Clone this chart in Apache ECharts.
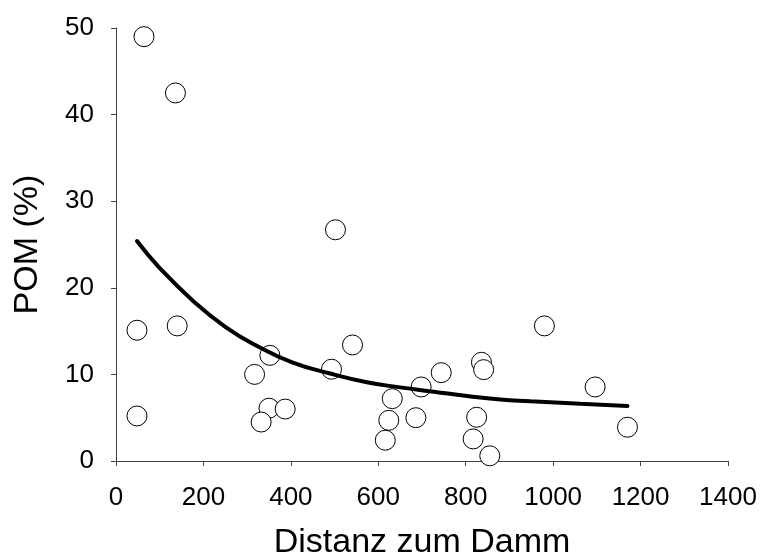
<!DOCTYPE html>
<html>
<head>
<meta charset="utf-8">
<script src="https://cdn.jsdelivr.net/npm/echarts@6/dist/echarts.min.js"></script>
<style>html,body{margin:0;padding:0;background:#fff}#c{width:760px;height:560px}</style>
</head>
<body>
<div id="c"></div>
<script>
// Observed points: distance (m) and POM (%)
var distanz = [64, 136, 502, 48, 140, 48, 352, 317, 541, 493, 350, 387, 332, 632, 624, 616, 686, 698, 744, 980, 836, 841, 1096, 825, 817, 855, 1170];
var pom = [49.0, 42.5, 26.7, 15.1, 15.6, 5.2, 12.2, 10.0, 13.4, 10.6, 6.1, 6.0, 4.5, 7.2, 4.7, 2.4, 5.0, 8.55, 10.2, 15.6, 11.4, 10.55, 8.55, 5.05, 2.55, 0.6, 3.9];
// Fitted curve
var curveX = [48, 98, 174, 250, 326, 403, 490, 574, 650, 727, 803, 879, 948, 1062, 1170];
var curveY = [25.4, 22.4, 18.6, 15.5, 13.2, 11.4, 10.1, 9.1, 8.5, 8.0, 7.5, 7.1, 6.9, 6.6, 6.35];
var xTicks = [0, 200, 400, 600, 800, 1000, 1200, 1400];
var yTicks = [0, 10, 20, 30, 40, 50];

var pts = distanz.map(function (d, i) { return [d, pom[i]]; });
var curve = curveX.map(function (d, i) { return [d, curveY[i]]; });
var font = 'Liberation Sans, Arial, sans-serif';
var axisCol = '#404040';

var chart = echarts.init(document.getElementById('c'), null, { renderer: 'canvas' });
chart.setOption({
  animation: false,
  backgroundColor: '#ffffff',
  grid: { left: 116, right: 32, top: 28, bottom: 99, containLabel: false, outerBoundsMode: 'none' },
  xAxis: {
    type: 'value', min: xTicks[0], max: xTicks[xTicks.length - 1], interval: 200,
    name: 'Distanz zum Damm', nameLocation: 'middle', nameGap: 65,
    nameTextStyle: { fontFamily: font, fontSize: 34, color: '#000' },
    axisLine: { show: true, onZero: false, lineStyle: { color: axisCol, width: 1 } },
    axisTick: { show: true, inside: false, length: 5, lineStyle: { color: axisCol } },
    axisLabel: { fontFamily: font, fontSize: 26, color: '#000', margin: 24,
      formatter: function (v) { return String(v); } },
    splitLine: { show: false }
  },
  yAxis: {
    type: 'value', min: yTicks[0], max: yTicks[yTicks.length - 1], interval: 10,
    name: 'POM (%)', nameLocation: 'middle', nameGap: 71, nameRotate: 90,
    nameTextStyle: { fontFamily: font, fontSize: 34, color: '#000' },
    axisLine: { show: true, onZero: false, lineStyle: { color: axisCol, width: 1 } },
    axisTick: { show: true, inside: false, length: 5, lineStyle: { color: axisCol } },
    axisLabel: { fontFamily: font, fontSize: 26, color: '#000', margin: 22,
      formatter: function (v) { return String(v); } },
    splitLine: { show: false }
  },
  series: [
    {
      type: 'scatter', data: pts, symbol: 'circle', symbolSize: 20, z: 2,
      itemStyle: { color: '#ffffff', borderColor: '#000000', borderWidth: 1, opacity: 1 }
    },
    {
      type: 'line', data: curve, smooth: true, showSymbol: false, symbol: 'none', z: 5,
      lineStyle: { color: '#000000', width: 4, cap: 'round' }
    }
  ]
});
</script>
</body>
</html>
